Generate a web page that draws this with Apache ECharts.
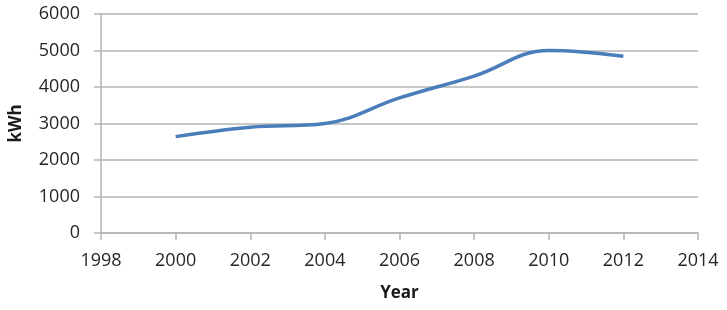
<!DOCTYPE html>
<html>
<head>
<meta charset="utf-8">
<script src="https://cdn.jsdelivr.net/npm/echarts@6/dist/echarts.min.js"></script>
<style>html,body{margin:0;padding:0;background:#fff;}#c{width:727px;height:310px;}</style>
</head>
<body>
<div id="c"></div>
<script>
var years = [2000, 2002, 2004, 2006, 2008, 2010, 2012];
var kwh = [2640, 2900, 3000, 3700, 4300, 5000, 4840];
var xTicks = [1998, 2014, 2];
var yTicks = [0, 6000, 1000];

var chart = echarts.init(document.getElementById('c'), null, {renderer: 'canvas'});
var font = '"Open Sans", sans-serif';
function plain(v) { return String(v); }
chart.setOption({
  animation: false,
  grid: {left: 93, right: 29, top: 14, bottom: 77, containLabel: false},
  xAxis: {
    type: 'value', min: xTicks[0], max: xTicks[1], interval: xTicks[2],
    name: 'Year', nameLocation: 'middle', nameGap: 52,
    nameTextStyle: {fontFamily: font, fontSize: 17, fontWeight: 'bold', color: '#1a1a1a'},
    axisLine: {show: true, lineStyle: {color: '#b5b5b5', width: 1.5}},
    axisTick: {show: true, length: 7, lineStyle: {color: '#b5b5b5', width: 1.5}},
    axisLabel: {fontFamily: font, fontSize: 18, color: '#262626', margin: 19, formatter: plain},
    splitLine: {show: false}
  },
  yAxis: {
    type: 'value', min: yTicks[0], max: yTicks[1], interval: yTicks[2],
    name: 'kWh', nameLocation: 'middle', nameGap: 76, nameRotate: 90,
    nameTextStyle: {fontFamily: font, fontSize: 17, fontWeight: 'bold', color: '#1a1a1a'},
    axisLine: {show: true, lineStyle: {color: '#b5b5b5', width: 1.5}},
    axisTick: {show: true, length: 7, lineStyle: {color: '#b5b5b5', width: 1.5}},
    axisLabel: {fontFamily: font, fontSize: 18, color: '#262626', margin: 21, formatter: plain},
    splitLine: {show: true, lineStyle: {color: '#b5b5b5', width: 1.5}}
  },
  series: [{
    type: 'line',
    data: years.map(function (y, i) { return [y, kwh[i]]; }),
    smooth: 0.4,
    showSymbol: false,
    lineStyle: {color: '#4A7EBB', width: 3.5}
  }]
});
</script>
</body>
</html>
